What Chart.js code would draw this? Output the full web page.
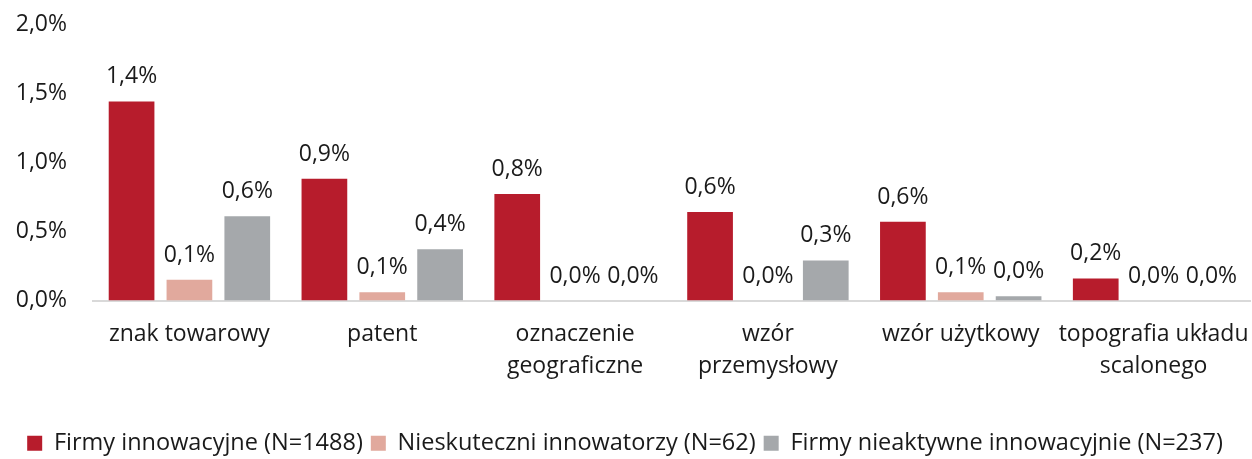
<!DOCTYPE html>
<html>
<head>
<meta charset="utf-8">
<script src="https://cdn.jsdelivr.net/npm/chart.js@4/dist/chart.umd.min.js"></script>
<style>
  html, body { margin: 0; padding: 0; background: #fff; }
  #wrap { width: 1252px; height: 459px; }
</style>
</head>
<body>
<div id="wrap"><canvas id="chart" width="1252" height="459"></canvas></div>
<script>
const CATEGORIES = [
  "znak towarowy",
  "patent",
  ["oznaczenie", "geograficzne"],
  ["wzór", "przemysłowy"],
  "wzór użytkowy",
  ["topografia układu", "scalonego"]
];
const SERIES_NAMES = [
  "Firmy innowacyjne (N=1488)",
  "Nieskuteczni innowatorzy (N=62)",
  "Firmy nieaktywne innowacyjnie (N=237)"
];
const INNOVATIVE = [1.44, 0.88, 0.77, 0.64, 0.57, 0.16];
const UNSUCCESSFUL = [0.15, 0.06, 0, 0, 0.06, 0];
const INACTIVE = [0.61, 0.37, 0, 0.29, 0.03, 0];
const COLORS = ["#b71c2c", "#e1a99d", "#a5a8ab"];

const FONT = "'Open Sans', 'Noto Sans', sans-serif";

function formatPct(value) {
  return value.toFixed(1).replace(".", ",") + "%";
}

const valueLabels = {
  id: "valueLabels",
  afterDatasetsDraw(chart) {
    const ctx = chart.ctx;
    ctx.save();
    ctx.font = "23px " + FONT;
    ctx.fillStyle = "#1a1a1a";
    ctx.textAlign = "center";
    ctx.textBaseline = "alphabetic";
    chart.data.datasets.forEach((ds, i) => {
      chart.getDatasetMeta(i).data.forEach((bar, j) => {
        ctx.fillText(formatPct(ds.data[j]), bar.x, bar.y - 18);
      });
    });
    ctx.restore();
  }
};

new Chart(document.getElementById("chart"), {
  type: "bar",
  data: {
    labels: CATEGORIES,
    datasets: [INNOVATIVE, UNSUCCESSFUL, INACTIVE].map((data, i) => ({
      label: SERIES_NAMES[i],
      data,
      backgroundColor: COLORS[i],
      categoryPercentage: 0.9,
      barPercentage: 0.79
    }))
  },
  options: {
    responsive: false,
    animation: false,
    layout: { padding: { left: 0, right: 2, top: 24, bottom: -6 } },
    scales: {
      x: {
        grid: { display: false, drawTicks: false },
        border: { color: "#d9d9d9", width: 2 },
        ticks: {
          color: "#1a1a1a",
          font: { family: FONT, size: 23, lineHeight: 1.39 },
          padding: 18,
          maxRotation: 0,
          autoSkip: false
        },
        afterFit(scale) {
          scale.paddingLeft = 0;
          scale.paddingRight = 0;
          scale.height = 123;
        }
      },
      y: {
        min: 0,
        max: 2,
        grid: { display: false, drawTicks: false },
        border: { display: false },
        ticks: {
          stepSize: 0.5,
          color: "#1a1a1a",
          font: { family: FONT, size: 23 },
          padding: 26,
          callback: (v) => formatPct(v)
        },
        afterFit(scale) {
          scale.paddingTop = 0;
          scale.paddingBottom = 0;
          scale.width = 93;
        }
      }
    },
    plugins: {
      tooltip: { enabled: false },
      legend: {
        position: "bottom",
        labels: {
          color: "#1a1a1a",
          font: { family: FONT, size: 23.5 },
          boxWidth: 15,
          boxHeight: 15,
          padding: 8
        }
      }
    }
  },
  plugins: [valueLabels]
});
</script>
</body>
</html>
